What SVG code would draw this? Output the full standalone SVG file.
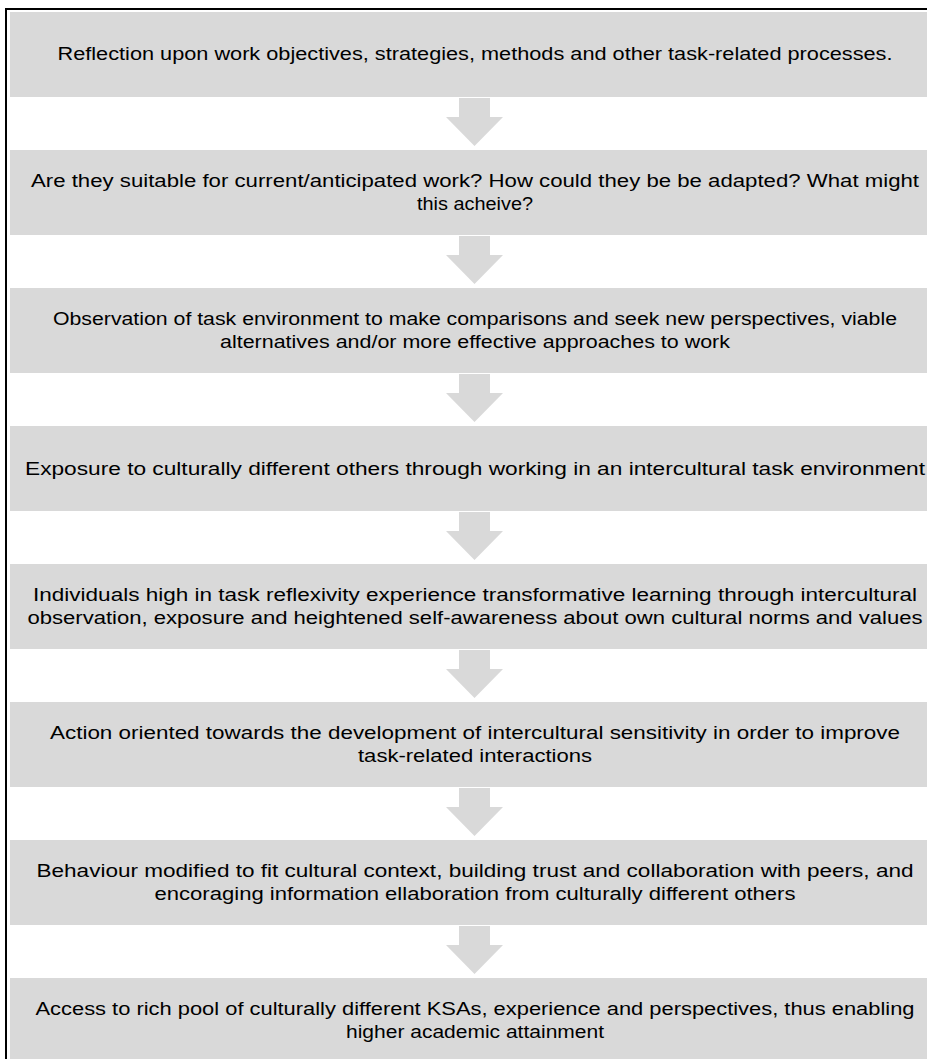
<svg xmlns="http://www.w3.org/2000/svg" width="927" height="1059" viewBox="0 0 927 1059">
<style>
.box{fill:#d9d9d9;}
.arr{fill:#d9d9d9;}
.t{font-family:"Liberation Sans",Arial,sans-serif;font-size:17.5px;fill:#000;text-anchor:middle;}
.frame{fill:none;stroke:#000;stroke-width:2;}
</style>
<defs>
<path id="arrow" class="arr" d="M-15.5,0 H15.5 V19 H28.5 L0,48 L-28.5,19 H-15.5 Z"/>
</defs>
<rect width="927" height="1059" fill="#fff"/>
<path class="frame" d="M6,1059 V9 H927"/>
<g id="connectors">
<use href="#arrow" x="474.5" y="98"/>
<use href="#arrow" x="474.5" y="236"/>
<use href="#arrow" x="474.5" y="374"/>
<use href="#arrow" x="474.5" y="512"/>
<use href="#arrow" x="474.5" y="650"/>
<use href="#arrow" x="474.5" y="788"/>
<use href="#arrow" x="474.5" y="926"/>
</g>
<g id="n1"><rect class="box" x="10" y="12" width="930" height="85"/>
<text class="t" x="475" y="60" textLength="835" lengthAdjust="spacingAndGlyphs">Reflection upon work objectives, strategies, methods and other task-related processes.</text></g>
<g id="n2"><rect class="box" x="10" y="150" width="930" height="85"/>
<text class="t" x="475" y="187" textLength="888" lengthAdjust="spacingAndGlyphs">Are they suitable for current/anticipated work? How could they be be adapted? What might</text>
<text class="t" x="475" y="210" textLength="116" lengthAdjust="spacingAndGlyphs">this acheive?</text></g>
<g id="n3"><rect class="box" x="10" y="288" width="930" height="85"/>
<text class="t" x="475" y="325" textLength="844" lengthAdjust="spacingAndGlyphs">Observation of task environment to make comparisons and seek new perspectives, viable</text>
<text class="t" x="475" y="348" textLength="510" lengthAdjust="spacingAndGlyphs">alternatives and/or more effective approaches to work</text></g>
<g id="n4"><rect class="box" x="10" y="426" width="930" height="85"/>
<text class="t" x="475" y="475" textLength="900" lengthAdjust="spacingAndGlyphs">Exposure to culturally different others through working in an intercultural task environment</text></g>
<g id="n5"><rect class="box" x="10" y="564" width="930" height="85"/>
<text class="t" x="475" y="601" textLength="884" lengthAdjust="spacingAndGlyphs">Individuals high in task reflexivity experience transformative learning through intercultural</text>
<text class="t" x="475" y="624" textLength="895" lengthAdjust="spacingAndGlyphs">observation, exposure and heightened self-awareness about own cultural norms and values</text></g>
<g id="n6"><rect class="box" x="10" y="702" width="930" height="85"/>
<text class="t" x="475" y="739" textLength="850" lengthAdjust="spacingAndGlyphs">Action oriented towards the development of intercultural sensitivity in order to improve</text>
<text class="t" x="475" y="762" textLength="234" lengthAdjust="spacingAndGlyphs">task-related interactions</text></g>
<g id="n7"><rect class="box" x="10" y="840" width="930" height="85"/>
<text class="t" x="475" y="877" textLength="877" lengthAdjust="spacingAndGlyphs">Behaviour modified to fit cultural context, building trust and collaboration with peers, and</text>
<text class="t" x="475" y="900" textLength="641" lengthAdjust="spacingAndGlyphs">encoraging information ellaboration from culturally different others</text></g>
<g id="n8"><rect class="box" x="10" y="978" width="930" height="85"/>
<text class="t" x="475" y="1015" textLength="879" lengthAdjust="spacingAndGlyphs">Access to rich pool of culturally different KSAs, experience and perspectives, thus enabling</text>
<text class="t" x="475" y="1038" textLength="258" lengthAdjust="spacingAndGlyphs">higher academic attainment</text></g>
</svg>
